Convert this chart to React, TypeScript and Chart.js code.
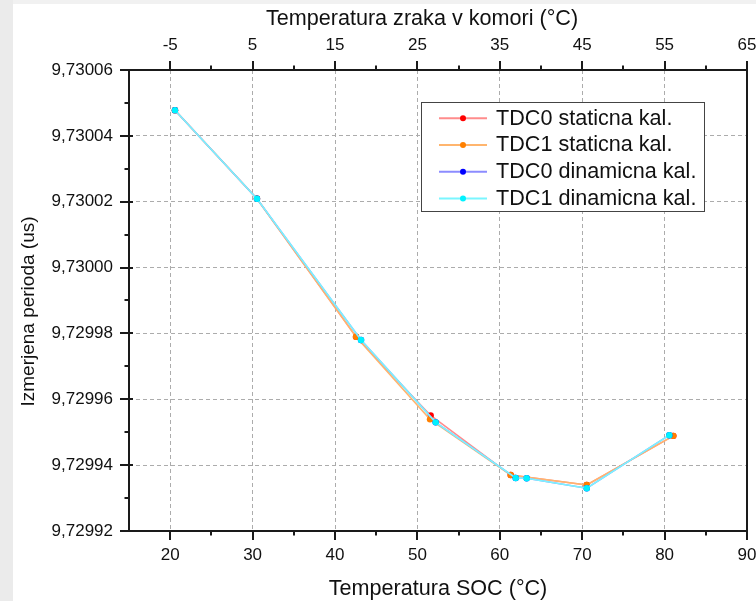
import React, { useEffect, useRef } from "react";
import { Chart, registerables } from "chart.js";

Chart.register(...registerables);

// ---- data ----
const socTicks = [20, 30, 40, 50, 60, 70, 80, 90];
const airTicks = [-5, 5, 15, 25, 35, 45, 55, 65];
const periodTicks = [9.72992, 9.72994, 9.72996, 9.72998, 9.73, 9.73002, 9.73004, 9.73006];

const socRange = [15, 90];
const airRange = [-10, 65];
const periodRange = [9.72992, 9.73006];

const seriesNames = [
  "TDC0 staticna kal.",
  "TDC1 staticna kal.",
  "TDC0 dinamicna kal.",
  "TDC1 dinamicna kal.",
];

const tdc0StaticSoc = [20.58, 30.53, 42.55, 51.61, 61.32, 70.55, 81.06];
const tdc0StaticPeriod = [9.7300478, 9.7300209, 9.729979, 9.7299551, 9.729937, 9.729934, 9.7299489];

const tdc1StaticSoc = [20.58, 30.53, 42.55, 51.53, 61.32, 70.55, 81.06];
const tdc1StaticPeriod = [9.7300478, 9.7300209, 9.729979, 9.7299539, 9.729937, 9.729934, 9.7299489];

const tdc0DynSoc = [20.58, 30.53, 43.16, 52.22, 61.93, 63.26, 70.55, 80.57];
const tdc0DynPeriod = [9.7300478, 9.7300209, 9.729978, 9.729953, 9.7299361, 9.729936, 9.729933, 9.7299491];

const tdc1DynSoc = [20.58, 30.53, 43.16, 52.22, 61.93, 63.26, 70.55, 80.57];
const tdc1DynPeriod = [9.7300478, 9.7300209, 9.729978, 9.729953, 9.7299361, 9.729936, 9.729933, 9.7299491];

const pointColors = ["#ff0000", "#ff8000", "#0000ff", "#00f2ff"];
const lineColors = ["#ff8c8c", "#ffb56e", "#8c8cff", "#7af6ff"];

const titleTop = "Temperatura zraka v komori (°C)";
const titleBottom = "Temperatura SOC (°C)";
const titleLeft = "Izmerjena perioda (us)";

const FONT = "'Liberation Sans', Arial, Helvetica, sans-serif";

const toPoints = (xs: number[], ys: number[]) => xs.map((x, i) => ({ x, y: ys[i] }));

const decorPlugin = {
  id: "decor",
  beforeDraw(chart: any) {
    const { ctx, width, height } = chart;
    ctx.save();
    ctx.fillStyle = "#ffffff";
    ctx.fillRect(0, 0, width, height);
    ctx.fillStyle = "#ebebeb";
    ctx.fillRect(0, 0, 13, height);
    ctx.fillStyle = "#f1f1f1";
    ctx.fillRect(13, 0, width - 13, 4);
    ctx.restore();
  },
  afterDraw(chart: any) {
    const { ctx, chartArea: a, scales } = chart;
    const sx = scales.x;
    const sx2 = scales.x2;
    const sy = scales.y;
    ctx.save();
    // frame
    ctx.strokeStyle = "#1a1a1a";
    ctx.lineWidth = 2;
    ctx.strokeRect(a.left, a.top, a.right - a.left, a.bottom - a.top);

    // ticks
    ctx.lineWidth = 2;
    ctx.beginPath();
    socTicks.forEach((v, i) => {
      const px = Math.round(sx.getPixelForValue(v));
      ctx.moveTo(px, a.bottom);
      ctx.lineTo(px, a.bottom + 9);
      if (i > 0) {
        const m = Math.round(sx.getPixelForValue((v + socTicks[i - 1]) / 2));
        ctx.moveTo(m, a.bottom);
        ctx.lineTo(m, a.bottom + 4.5);
      }
    });
    airTicks.forEach((v, i) => {
      const px = Math.round(sx2.getPixelForValue(v));
      ctx.moveTo(px, a.top);
      ctx.lineTo(px, a.top - 9);
      if (i > 0) {
        const m = Math.round(sx2.getPixelForValue((v + airTicks[i - 1]) / 2));
        ctx.moveTo(m, a.top);
        ctx.lineTo(m, a.top - 4.5);
      }
    });
    periodTicks.forEach((v, i) => {
      const py = Math.round(sy.getPixelForValue(v));
      ctx.moveTo(a.left - 9, py);
      ctx.lineTo(a.left + 4, py);
      if (i > 0) {
        const m = Math.round(sy.getPixelForValue((v + periodTicks[i - 1]) / 2));
        ctx.moveTo(a.left - 4.5, m);
        ctx.lineTo(a.left, m);
      }
    });
    ctx.stroke();

    // titles
    ctx.fillStyle = "#111111";
    ctx.font = `21.6px ${FONT}`;
    ctx.textAlign = "center";
    ctx.textBaseline = "alphabetic";
    ctx.fillText(titleTop, 422, 25);
    ctx.fillText(titleBottom, (a.left + a.right) / 2, 595);
    ctx.save();
    ctx.translate(34, 311.5);
    ctx.rotate(-Math.PI / 2);
    ctx.font = `19px ${FONT}`;
    ctx.fillText(titleLeft, 0, 0);
    ctx.restore();

    // legend
    const bx = 421.5, by = 102.5, bw = 283, bh = 109;
    ctx.fillStyle = "#ffffff";
    ctx.fillRect(bx, by, bw, bh);
    ctx.strokeStyle = "#444444";
    ctx.lineWidth = 1;
    ctx.strokeRect(bx, by, bw, bh);
    const ds = chart.data.datasets;
    ctx.font = `21.6px ${FONT}`;
    ctx.textAlign = "left";
    ctx.textBaseline = "middle";
    ds.forEach((d: any, i: number) => {
      const ry = 118.3 + i * 26.7;
      ctx.strokeStyle = d.borderColor;
      ctx.lineWidth = 2;
      ctx.beginPath();
      ctx.moveTo(439, ry);
      ctx.lineTo(487, ry);
      ctx.stroke();
      ctx.fillStyle = d.pointBackgroundColor;
      ctx.beginPath();
      ctx.arc(463, ry, 3, 0, Math.PI * 2);
      ctx.fill();
      ctx.fillStyle = "#111111";
      ctx.fillText(d.label, 496, ry + 0.5);
    });
    ctx.restore();
  },
};

export default function App() {
  const canvasRef = useRef<HTMLCanvasElement | null>(null);

  useEffect(() => {
    document.body.style.margin = "0";
    const canvas = canvasRef.current;
    if (!canvas) return;

    const series = [
      toPoints(tdc0StaticSoc, tdc0StaticPeriod),
      toPoints(tdc1StaticSoc, tdc1StaticPeriod),
      toPoints(tdc0DynSoc, tdc0DynPeriod),
      toPoints(tdc1DynSoc, tdc1DynPeriod),
    ];

    const tickFont = { family: FONT, size: 17 };

    const chart = new Chart(canvas, {
      type: "scatter",
      data: {
        datasets: series.map((data, i) => ({
          label: seriesNames[i],
          data,
          showLine: true,
          borderColor: lineColors[i],
          borderWidth: 1.5,
          pointBackgroundColor: pointColors[i],
          pointBorderWidth: 0,
          pointRadius: 3.2,
          pointHoverRadius: 3.2,
          order: 3 - i,
        })),
      },
      options: {
        animation: false,
        responsive: false,
        events: [],
        layout: { padding: { left: 0, top: 0, right: 9, bottom: 0 } },
        plugins: {
          legend: { display: false },
          tooltip: { enabled: false },
        },
        scales: {
          x: {
            type: "linear",
            position: "bottom",
            min: socRange[0],
            max: socRange[1],
            afterBuildTicks: (s: any) => {
              s.ticks = socTicks.map((v) => ({ value: v }));
            },
            afterFit: (s: any) => {
              s.height = 70;
              s.paddingLeft = 0;
              s.paddingRight = 0;
            },
            grid: {
              drawTicks: false,
              lineWidth: 1,
              color: (c: any) =>
                c.tick && c.tick.value === socTicks[socTicks.length - 1] ? "rgba(0,0,0,0)" : "#acacac",
            },
            border: { display: false, dash: [4, 3] },
            ticks: { padding: 13.8, color: "#111111", font: tickFont, maxRotation: 0, autoSkip: false },
          },
          x2: {
            type: "linear",
            position: "top",
            min: airRange[0],
            max: airRange[1],
            afterBuildTicks: (s: any) => {
              s.ticks = airTicks.map((v) => ({ value: v }));
            },
            afterFit: (s: any) => {
              s.height = 70;
              s.paddingLeft = 0;
              s.paddingRight = 0;
            },
            grid: { display: false, drawTicks: false },
            border: { display: false },
            ticks: { padding: 14.3, color: "#111111", font: tickFont, maxRotation: 0, autoSkip: false },
          },
          y: {
            type: "linear",
            position: "left",
            min: periodRange[0],
            max: periodRange[1],
            afterBuildTicks: (s: any) => {
              s.ticks = periodTicks.map((v) => ({ value: v }));
            },
            afterFit: (s: any) => {
              s.width = 129;
              s.paddingTop = 0;
              s.paddingBottom = 0;
            },
            grid: {
              drawTicks: false,
              lineWidth: 1,
              color: (c: any) =>
                c.index === 0 || c.index === periodTicks.length - 1 ? "rgba(0,0,0,0)" : "#acacac",
            },
            border: { display: false, dash: [4, 3] },
            ticks: {
              padding: 16,
              color: "#111111",
              font: tickFont,
              autoSkip: false,
              callback: (v: any) => Number(v).toFixed(5).replace(".", ","),
            },
          },
        },
      } as any,
      plugins: [decorPlugin],
    });

    return () => chart.destroy();
  }, []);

  return (
    <div style={{ position: "absolute", left: 0, top: 0, width: 756, height: 601 }}>
      <canvas ref={canvasRef} width={756} height={601} style={{ width: 756, height: 601, display: "block" }} />
    </div>
  );
}
